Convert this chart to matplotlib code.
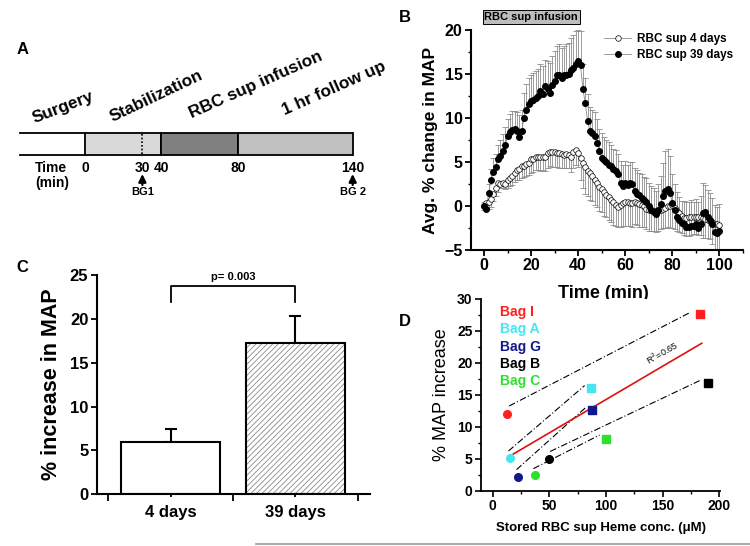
import numpy as np
import matplotlib
matplotlib.use('Agg')
import matplotlib.pyplot as plt
from matplotlib.lines import Line2D
from matplotlib.patches import Rectangle
from matplotlib.ticker import MultipleLocator, FixedLocator
import matplotlib.transforms as mtransforms

# ---------------- data ----------------
# Panel A: protocol timeline (minutes)
phase_names = ['Surgery', 'Stabilization', 'RBC sup infusion', '1 hr follow up']
phase_starts = [-34, 0, 40, 80]
phase_ends = [0, 40, 80, 140]
phase_colors = ['white', '#d9d9d9', '#808080', '#c0c0c0']
time_marks = [0, 30, 40, 80, 140]
bg_times = [30, 140]
bg_labels = ['BG1', 'BG 2']

# Panel B: average % change in MAP (per minute)
time_min = list(range(0, 101))
map_39d = [0.0, -0.3, 1.5, 3.0, 3.9, 4.4, 5.3, 5.7, 6.2, 6.9,
           7.9, 8.4, 8.6, 8.8, 8.5, 7.8, 8.5, 10.0, 10.9, 11.6,
           11.9, 12.1, 12.3, 12.5, 13.1, 12.7, 13.6, 13.3, 12.8, 13.8,
           14.2, 14.9, 14.9, 14.5, 14.9, 14.9, 15.0, 15.5, 15.7, 16.1,
           16.5, 16.0, 13.3, 11.7, 9.7, 8.5, 8.3, 7.9, 7.2, 6.2,
           5.5, 5.2, 5.0, 4.7, 4.5, 4.2, 4.0, 3.6, 2.6, 2.3,
           2.6, 2.4, 2.6, 2.5, 1.7, 1.4, 1.2, 0.9, 0.7, 0.4,
           0.0, -0.4, -0.7, -0.9, -0.4, 0.2, 1.1, 1.7, 1.9, 1.5,
           0.3, -0.5, -1.2, -1.6, -1.9, -2.1, -2.4, -2.4, -2.3, -2.3,
           -2.1, -2.5, -2.1, -0.8, -0.7, -1.2, -1.55, -2.1, -3.0, -3.1,
           -2.8]
err_39d = [0.5, 0.6, 1.0, 1.2, 1.5, 1.5, 1.6, 1.8, 2.0, 2.1,
           2.0, 2.0, 2.2, 2.0, 2.2, 2.5, 2.4, 2.8, 3.0, 2.9,
           3.0, 3.0, 3.0, 3.1, 3.0, 3.2, 3.0, 3.2, 3.4, 3.3,
           3.4, 3.3, 3.5, 3.4, 3.3, 3.5, 3.5, 3.6, 3.7, 3.8,
           3.5, 3.9, 2.8, 2.9, 3.0, 2.7, 2.6, 2.8, 2.7, 2.6,
           2.8, 2.6, 2.5, 2.6, 2.4, 2.3, 2.4, 2.3, 2.5, 2.4,
           2.5, 2.3, 2.4, 2.5, 2.6, 2.7, 2.6, 2.7, 2.6, 2.8,
           2.6, 2.7, 2.8, 2.6, 2.9, 3.2, 3.8, 4.5, 4.6, 4.2,
           3.3, 3.0, 2.8, 2.6, 2.5, 2.7, 2.8, 2.9, 3.0, 2.8,
           2.9, 3.0, 3.2, 3.4, 3.1, 3.0, 3.0, 3.0, 3.1, 3.0,
           3.0]
map_4d = [0.0, 0.3, 0.5, 0.8, 1.4, 2.0, 2.6, 2.5, 2.6, 2.5,
          2.9, 3.2, 3.4, 3.75, 4.05, 4.2, 4.5, 4.6, 4.8, 4.9,
          5.3, 5.3, 5.6, 5.6, 5.6, 5.6, 5.6, 6.0, 6.1, 6.1,
          6.1, 6.0, 6.0, 5.9, 5.8, 5.9, 5.8, 5.6, 6.1, 6.4,
          6.0, 5.5, 4.9, 4.4, 4.0, 3.7, 3.4, 3.0, 2.6, 2.2,
          1.9, 1.6, 1.3, 1.0, 0.7, 0.4, 0.1, -0.1, 0.1, 0.3,
          0.5, 0.4, 0.35, 0.3, 0.5, 0.3, 0.2, 0.1, 0.0, -0.3,
          -0.4, -0.5, -0.6, -0.6, -0.6, -0.5, -0.3, -0.2, 0.0, 0.0,
          0.15, -0.2, -0.6, -0.8, -1.1, -1.4, -1.4, -1.3, -1.25, -1.25,
          -1.2, -1.2, -1.3, -1.4, -1.5, -1.6, -1.6, -1.8, -2.0, -2.1,
          -2.2]
err_4d = [0.5, 0.6, 0.8, 0.9, 0.8, 0.9, 1.0, 0.5, 0.6, 0.6,
          0.8, 0.9, 1.0, 1.0, 1.1, 1.2, 1.3, 1.3, 1.4, 1.4,
          1.5, 1.4, 1.5, 1.5, 1.6, 1.5, 1.6, 1.7, 1.6, 1.7,
          1.7, 1.6, 1.7, 1.6, 1.5, 1.6, 1.5, 1.7, 1.8, 1.7,
          1.6, 2.6, 2.8, 3.0, 2.9, 3.0, 2.8, 2.9, 2.7, 2.8,
          2.6, 2.7, 2.5, 2.6, 2.5, 2.6, 2.4, 2.3, 2.5, 2.6,
          2.8, 2.7, 2.6, 2.7, 2.6, 2.5, 2.6, 2.5, 2.4, 2.3,
          2.4, 2.3, 2.2, 2.3, 2.2, 2.1, 2.2, 2.3, 2.4, 2.5,
          2.6, 2.4, 2.2, 2.1, 2.0, 1.9, 2.0, 2.1, 2.0, 1.9,
          2.0, 2.1, 2.0, 2.2, 2.1, 2.0, 2.2, 2.5, 3.0, 3.2,
          3.3]
series_labels = ['RBC sup 4 days', 'RBC sup 39 days']

# Panel C: mean % increase in MAP
bar_groups = ['4 days', '39 days']
bar_means = [6.0, 17.2]
bar_sem = [1.5, 3.1]
p_text = 'p= 0.003'

# Panel D: MAP increase vs heme
bag_names = ['Bag I', 'Bag A', 'Bag G', 'Bag B', 'Bag C']
bag_colors = ['#ff1f1f', '#45e6f0', '#12188c', '#000000', '#2ee02e']
heme_4d = [12.9, 15.3, 22.6, 50.0, 37.6]
inc_4d = [12.0, 5.1, 2.2, 5.0, 2.5]
heme_39d = [183.0, 86.8, 87.9, 190.3, 99.7]
inc_39d = [27.6, 16.0, 12.6, 16.8, 8.1]
fit_slope = 0.1043
fit_intercept = 3.84
fit_range = [18.2, 184.4]
fit_r2 = 0.65

# ---------------- figure ----------------
plt.rcParams['font.family'] = ['Liberation Sans', 'DejaVu Sans']
plt.rcParams['hatch.linewidth'] = 0.6

W, H = 750, 546
fig = plt.figure(figsize=(7.5, 5.46), dpi=100)


def px_axes(x0, y0, x1, y1):
    return fig.add_axes([x0 / W, 1 - y1 / H, (x1 - x0) / W, (y1 - y0) / H])


# ---------- Panel A ----------
axA = px_axes(0, 0, 370, 210)
axA.set_xlim(-44.46, 149.06)
axA.set_ylim(210, 0)
axA.axis('off')
y0b, y1b = 133, 155
for s, e, c in zip(phase_starts[1:], phase_ends[1:], phase_colors[1:]):
    axA.add_patch(Rectangle((s, y0b), e - s, y1b - y0b, facecolor=c,
                            edgecolor='black', lw=1.3, zorder=2))
axA.plot([phase_starts[0], phase_ends[0]], [y0b, y0b], color='black', lw=1.3)
axA.plot([phase_starts[0], phase_ends[0]], [y1b, y1b], color='black', lw=1.3)
axA.plot([bg_times[0]] * 2, [y0b + 1, y1b - 1], color='black', lw=1.2, ls=(0, (1, 1.2)), zorder=3)

label_pos = [(-26.2, 123, 21), (14.6, 122, 25.5), (55.9, 118, 24), (104.6, 115, 24)]
for name, (tx, ty, rot) in zip(phase_names, label_pos):
    axA.text(tx, ty, name, rotation=rot, rotation_mode='anchor', ha='left',
             va='baseline', fontsize=12.3, fontweight='bold')
for t in time_marks:
    axA.text(t, 168, str(t), ha='center', va='center', fontsize=10, fontweight='bold')
axA.text(-26.2, 168, 'Time', ha='left', va='center', fontsize=10, fontweight='bold')
axA.text(-26.2, 183, '(min)', ha='left', va='center', fontsize=10, fontweight='bold')
for t, lab in zip(bg_times, bg_labels):
    axA.annotate('', xy=(t, 174), xytext=(t, 185),
                 arrowprops=dict(arrowstyle='-|>,head_length=0.45,head_width=0.22',
                                 color='black', lw=1.6, shrinkA=0, shrinkB=0))
    axA.text(t, 192, lab, ha='center', va='center', fontsize=8, fontweight='bold')

# ---------- Panel B ----------
axB = px_axes(471, 30, 743, 250)
t = np.array(time_min)
b = np.array(map_39d)
w = np.array(map_4d)
gray = '#8c8c8c'
axB.errorbar(t, b, yerr=[np.zeros_like(b), np.array(err_39d)], fmt='none', ecolor=gray,
             elinewidth=0.6, capsize=2.5, capthick=0.6, zorder=1)
axB.errorbar(t, w, yerr=[np.array(err_4d), np.zeros_like(w)], fmt='none', ecolor=gray,
             elinewidth=0.6, capsize=2.5, capthick=0.6, zorder=1)
axB.plot(t, w, '-', color=gray, lw=0.6, zorder=2)
axB.plot(t, b, '-', color=gray, lw=0.6, zorder=2)
axB.plot(t, w, 'o', mfc='white', mec='black', mew=0.5, ms=4.0, zorder=3)
axB.plot(t, b, 'o', mfc='black', mec='black', ms=4.0, zorder=4)
axB.set_xlim(-5.5, 110)
axB.set_ylim(-5, 20)
for sp in ['top', 'right']:
    axB.spines[sp].set_visible(False)
for sp in ['left', 'bottom']:
    axB.spines[sp].set_linewidth(1.5)
axB.xaxis.set_major_locator(FixedLocator([0, 20, 40, 60, 80, 100]))
axB.xaxis.set_minor_locator(FixedLocator([10, 30, 50, 70, 90, 110]))
axB.yaxis.set_major_locator(MultipleLocator(5))
axB.yaxis.set_minor_locator(MultipleLocator(2.5))
axB.tick_params(which='major', direction='out', length=4, width=1.3, labelsize=11.5, pad=2)
axB.tick_params(which='minor', direction='out', length=2.5, width=1.0)
for lab in axB.get_xticklabels() + axB.get_yticklabels():
    lab.set_fontweight('bold')
axB.set_ylabel('Avg. % change in MAP', fontsize=12.5, fontweight='bold')
axB.yaxis.set_label_coords(-0.12, 0.5)
axB.set_xlabel('Time (min)', fontsize=13, fontweight='bold')
axB.xaxis.set_label_coords(0.485, -0.16)
axB.text(20, 20.9, 'RBC sup infusion', ha='center', va='bottom', fontsize=8,
         fontweight='bold', bbox=dict(boxstyle='square,pad=0.15', facecolor='#bdbdbd',
                                      edgecolor='black', lw=0.7))
handles = [Line2D([], [], color=gray, lw=0.6, marker='o', mfc='white', mec='black', mew=0.5, ms=4.0),
           Line2D([], [], color=gray, lw=0.6, marker='o', mfc='black', mec='black', ms=4.0)]
axB.legend(handles, series_labels, loc='upper left', bbox_to_anchor=(0.49, 0.985),
           frameon=False, prop=dict(weight='bold', size=8.5), handlelength=2.3,
           handletextpad=0.5, labelspacing=0.3, borderaxespad=0, borderpad=0)

# ---------- Panel C ----------
axC = px_axes(96.7, 275, 370, 494.3)
xc = np.arange(len(bar_groups))
axC.bar(xc[0], bar_means[0], width=0.795, facecolor='white', edgecolor='black', lw=1.5, zorder=2)
axC.bar(xc[1], bar_means[1], width=0.795, facecolor='white', edgecolor='#8a8a8a',
        hatch='//////', lw=0, zorder=2)
axC.bar(xc[1], bar_means[1], width=0.795, fill=False, edgecolor='black', lw=1.5, zorder=3)
axC.errorbar(xc, bar_means, yerr=[np.zeros(2), np.array(bar_sem)], fmt='none', ecolor='black',
             elinewidth=1.5, capsize=4, capthick=1.5, zorder=1)
axC.set_xlim(-0.593, 1.60)
axC.set_ylim(0, 25)
for sp in ['top', 'right']:
    axC.spines[sp].set_visible(False)
for sp in ['left', 'bottom']:
    axC.spines[sp].set_linewidth(1.5)
axC.set_xticks(xc)
axC.set_xticklabels(bar_groups)
axC.xaxis.set_minor_locator(FixedLocator([-0.5, 0.5, 1.5]))
axC.yaxis.set_major_locator(MultipleLocator(5))
axC.tick_params(axis='x', which='major', direction='out', length=2.5, width=1.3, labelsize=12, pad=5)
axC.tick_params(axis='x', which='minor', direction='out', length=5, width=1.3)
axC.tick_params(axis='y', which='major', direction='out', length=4, width=1.3, labelsize=12, pad=2)
for lab in axC.get_xticklabels() + axC.get_yticklabels():
    lab.set_fontweight('bold')
axC.set_ylabel('% increase in MAP', fontsize=15.5, fontweight='bold')
axC.yaxis.set_label_coords(-0.127, 0.5)
by0, by1 = 21.9, 23.8
axC.plot([xc[0], xc[0], xc[1], xc[1]], [by0, by1, by1, by0], color='black', lw=1.3)
axC.text((xc[0] + xc[1]) / 2, by1 + 0.45, p_text, ha='center', va='bottom', fontsize=8, fontweight='bold')

# ---------- Panel D ----------
axD = px_axes(481, 299, 720, 490.7)
axD.set_xlim(-10.3, 200.5)
axD.set_ylim(0, 30)
shift = mtransforms.offset_copy(axD.transData, fig=fig, x=-4, y=5, units='dots')
frac = 0.03
for x0, y0, x1, y1 in zip(heme_4d, inc_4d, heme_39d, inc_39d):
    sx, sy = x0 + frac * (x1 - x0), y0 + frac * (y1 - y0)
    ex, ey = x1 - frac * (x1 - x0), y1 - frac * (y1 - y0)
    axD.plot([sx, ex], [sy, ey], color='black', lw=0.8, ls=(0, (6, 2, 1, 2)), transform=shift)
fx = np.array(fit_range)
axD.plot(fx, fit_intercept + fit_slope * fx, color='#e01010', lw=1.2, zorder=3)
for x0, y0, x1, y1, c in zip(heme_4d, inc_4d, heme_39d, inc_39d, bag_colors):
    axD.plot(x0, y0, 'o', color=c, ms=5.5, zorder=4)
    axD.plot(x1, y1, 's', color=c, ms=5.8, zorder=4)
axD.text(152, 20.7, 'R$^2$=%.2f' % fit_r2, rotation=30, rotation_mode='anchor', ha='center',
         va='bottom', fontsize=6.5)
for i, (nm, c) in enumerate(zip(bag_names, bag_colors)):
    axD.text(0.08, 0.932 - 0.09 * i, nm, color=c, transform=axD.transAxes, ha='left',
             va='center', fontsize=10, fontweight='bold')
for sp in ['top', 'right']:
    axD.spines[sp].set_visible(False)
for sp in ['left', 'bottom']:
    axD.spines[sp].set_linewidth(1.3)
axD.xaxis.set_major_locator(FixedLocator([0, 50, 100, 150, 200]))
axD.xaxis.set_minor_locator(FixedLocator([25, 75, 125, 175]))
axD.yaxis.set_major_locator(MultipleLocator(5))
axD.yaxis.set_minor_locator(MultipleLocator(2.5))
axD.tick_params(which='major', direction='out', length=4, width=1.2, labelsize=10, pad=2)
axD.tick_params(which='minor', direction='out', length=2.5, width=1.0)
for lab in axD.get_xticklabels() + axD.get_yticklabels():
    lab.set_fontweight('bold')
axD.set_ylabel('% MAP increase', fontsize=13)
axD.yaxis.set_label_coords(-0.13, 0.5)
axD.set_xlabel('Stored RBC sup Heme conc. (μM)', fontsize=9.5, fontweight='bold')
axD.xaxis.set_label_coords(0.5, -0.165)

# ---------- panel letters & decoration ----------
for letter, (lx, ly) in zip('ABCD', [(23, 50), (405, 18), (22, 267), (405, 322)]):
    fig.text(lx / W, 1 - ly / H, letter, ha='center', va='center', fontsize=12, fontweight='bold')
fig.add_artist(Line2D([256 / W, 1.0], [1 - 544 / H] * 2, color='#9a9a9a', lw=1.2))

fig.savefig('out.png', dpi=100)
